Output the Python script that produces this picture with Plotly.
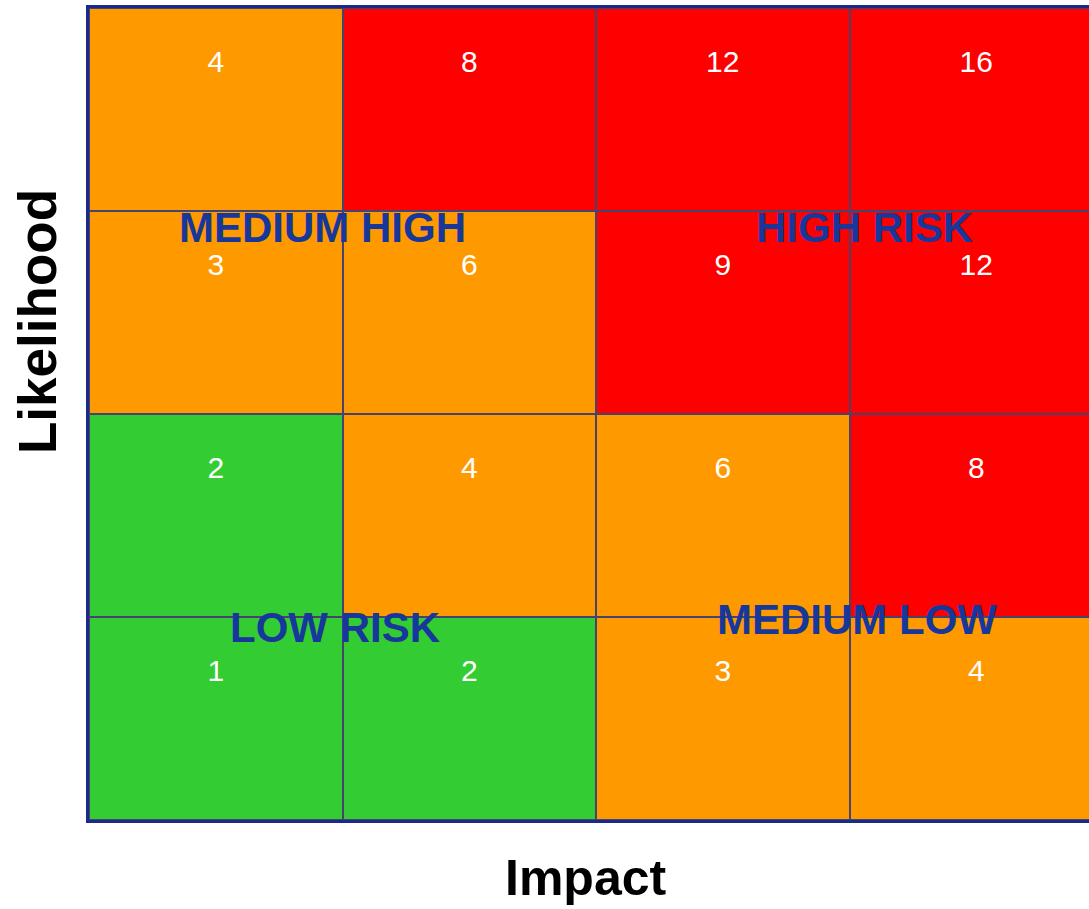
import plotly.graph_objects as go

# Risk matrix: impact (columns) x likelihood (rows)
impact = [1, 2, 3, 4]
likelihood = [1, 2, 3, 4]

# Risk band per cell (0 = low / green, 1 = medium / orange, 2 = high / red),
# rows ordered by likelihood 1..4
band = [
    [0, 0, 1, 1],
    [0, 1, 1, 2],
    [1, 1, 2, 2],
    [1, 2, 2, 2],
]

# Region labels and their positions on the grid
region_labels = ["MEDIUM HIGH", "HIGH RISK", "LOW RISK", "MEDIUM LOW"]
region_x = [1.42, 3.56, 1.47, 3.53]
region_y = [3.42, 3.42, 1.45, 1.49]

GREEN = "#33CC33"
ORANGE = "#FF9900"
RED = "#FF0000"
NAVY = "#1b2a8a"
LABEL_BLUE = "#17379b"
FONT = "Liberation Sans, Arial, sans-serif"

colorscale = [
    [0.0, GREEN], [1 / 3, GREEN],
    [1 / 3, ORANGE], [2 / 3, ORANGE],
    [2 / 3, RED], [1.0, RED],
]

W, H = 1089, 909
ml, mr, mt, mb = 89, 0, 8, 89
pw, ph = W - ml - mr, H - mt - mb

fig = go.Figure()

fig.add_trace(go.Heatmap(
    x=impact, y=likelihood, z=band,
    zmin=0, zmax=2, colorscale=colorscale, showscale=False,
    xgap=2, ygap=2, hoverinfo="skip",
))

# Score (impact x likelihood) written near the top of every cell
sx, sy, st = [], [], []
for li in likelihood:
    for im in impact:
        sx.append(im)
        sy.append(li + 0.22)
        st.append(str(im * li))

fig.add_trace(go.Scatter(
    x=sx, y=sy, text=st, mode="text",
    textfont=dict(family=FONT, size=30, color="white"),
    hoverinfo="skip", showlegend=False,
))

for lab, x, y in zip(region_labels, region_x, region_y):
    fig.add_annotation(
        x=x, y=y, xref="x", yref="y", text=f"<b>{lab}</b>", showarrow=False,
        xanchor="center", yanchor="middle",
        font=dict(family=FONT, size=42, color=LABEL_BLUE),
    )

# Axis titles, placed in pixel terms relative to the plot area
fig.add_annotation(
    x=(586 - ml) / pw, y=(H - mb - 878) / ph, xref="paper", yref="paper",
    text="<b>Impact</b>", showarrow=False, xanchor="center", yanchor="middle",
    font=dict(family=FONT, size=50, color="black"),
)
fig.add_annotation(
    x=(37 - ml) / pw, y=(H - mb - 322) / ph, xref="paper", yref="paper",
    text="<b>Likelihood</b>", showarrow=False, textangle=-90,
    xanchor="center", yanchor="middle",
    font=dict(family=FONT, size=53, color="black"),
)

fig.update_layout(
    width=W, height=H,
    margin=dict(l=ml, r=mr, t=mt, b=mb),
    paper_bgcolor="white",
    plot_bgcolor="#44446e",
    showlegend=False,
)
fig.update_xaxes(
    range=[0.5, 0.5 + pw / 253.5], showgrid=False, zeroline=False,
    showticklabels=False, ticks="", showline=True, linecolor=NAVY, linewidth=3,
    mirror=True,
)
fig.update_yaxes(
    range=[0.5, 4.5], showgrid=False, zeroline=False,
    showticklabels=False, ticks="", showline=True, linecolor=NAVY, linewidth=3,
)

fig.write_html("out.html")
